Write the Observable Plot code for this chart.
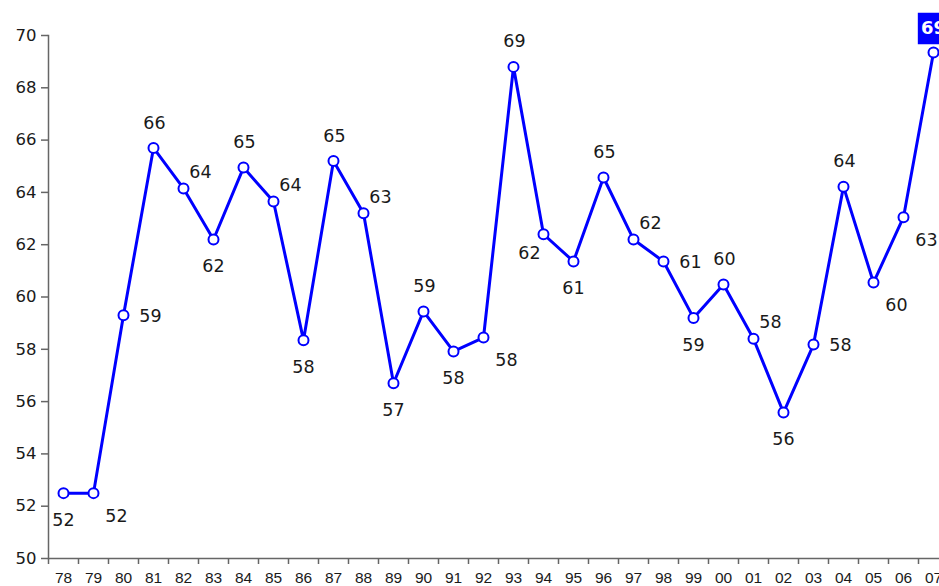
<!DOCTYPE html>
<html>
<head>
<meta charset="utf-8">
<script src="https://cdn.jsdelivr.net/npm/d3@7"></script>
<script src="https://cdn.jsdelivr.net/npm/@observablehq/plot@0.6"></script>
<style>
  html, body { margin: 0; padding: 0; background: #fff; overflow: hidden; }
</style>
</head>
<body>
<div id="chart"></div>
<script>
// Data
const years = ["78","79","80","81","82","83","84","85","86","87","88","89","90","91","92","93","94","95","96","97","98","99","00","01","02","03","04","05","06","07"];
const values = [52.5, 52.5, 59.3, 65.7, 64.15, 62.2, 64.95, 63.65, 58.35, 65.2, 63.2, 56.7, 59.45, 57.92, 58.45, 68.8, 62.4, 61.36, 64.57, 62.2, 61.36, 59.2, 60.48, 58.4, 55.58, 58.18, 64.22, 60.55, 63.05, 69.35];
const labels = ["52","52","59","66","64","62","65","64","58","65","63","57","59","58","58","69","62","61","65","62","61","59","60","58","56","58","64","60","63","69"];
// label placement relative to each point (compass codes)
const placement = ["S","SE","E","N","NE","S","N","NE","S","N","NE","S","N","S","SE","N","SW","S","N","NE","E","S","N","NE","S","E","N","SE","SE","BOX"];
const yTicks = [50, 52, 54, 56, 58, 60, 62, 64, 66, 68, 70];

const data = years.map((y, i) => ({year: y, value: values[i], label: labels[i], place: placement[i]}));

const offsets = {
  N:  {dx: 1,  dy: -25},
  S:  {dx: 0,  dy: 27},
  E:  {dx: 27, dy: 1},
  NE: {dx: 17, dy: -16},
  SE: {dx: 23, dy: 23},
  SW: {dx: -14, dy: 19}
};

const blue = "#0000FF";
const font = "DejaVu Sans, Verdana, sans-serif";

const labelMarks = Object.entries(offsets).map(([code, o]) =>
  Plot.text(data.filter(d => d.place === code), {
    x: "year", y: "value", text: "label",
    dx: o.dx, dy: o.dy, fontSize: 17.5, fill: "#1a1a1a", fontFamily: font
  })
);
const boxed = data.filter(d => d.place === "BOX");

const chart = Plot.plot({
  width: 939,
  height: 586,
  marginLeft: 48,
  marginRight: 0,
  marginTop: 35,
  marginBottom: 28,
  style: {fontFamily: font, background: "#fff", overflow: "hidden"},
  x: {type: "band", domain: years, range: [48, 948], padding: 0, label: null},
  y: {domain: [50, 70], label: null},
  marks: [
    Plot.ruleY([50], {stroke: "#666", strokeWidth: 1.5}),
    Plot.frame({anchor: "left", stroke: "#666", strokeWidth: 1.5}),
    Plot.ruleX(years, {x: d => d, y1: 50, y2: 50, insetBottom: -6, dx: -15, stroke: "#666", strokeWidth: 1.5}),
    Plot.axisY({ticks: yTicks, tickSize: 7, tickPadding: 5, fontSize: 16.5, stroke: "#666", strokeWidth: 1.5, fill: "#1a1a1a", fontFamily: font, label: null}),
    Plot.axisX({tickSize: 0, tickPadding: 13, fontSize: 15.5, fill: "#1a1a1a", fontFamily: "Liberation Sans, Arial, sans-serif", label: null}),
    Plot.line(data, {x: "year", y: "value", stroke: blue, strokeWidth: 3}),
    Plot.dot(data, {x: "year", y: "value", r: 5, fill: "white", stroke: blue, strokeWidth: 2}),
    ...labelMarks,
    Plot.dot(boxed, {x: "year", y: "value", symbol: "square", r: 17.7, fill: blue, dy: -24}),
    Plot.text(boxed, {x: "year", y: "value", text: "label", dy: -24, fill: "white", fontWeight: "bold", fontSize: 18, fontFamily: font})
  ]
});
document.getElementById("chart").appendChild(chart);
</script>
</body>
</html>
